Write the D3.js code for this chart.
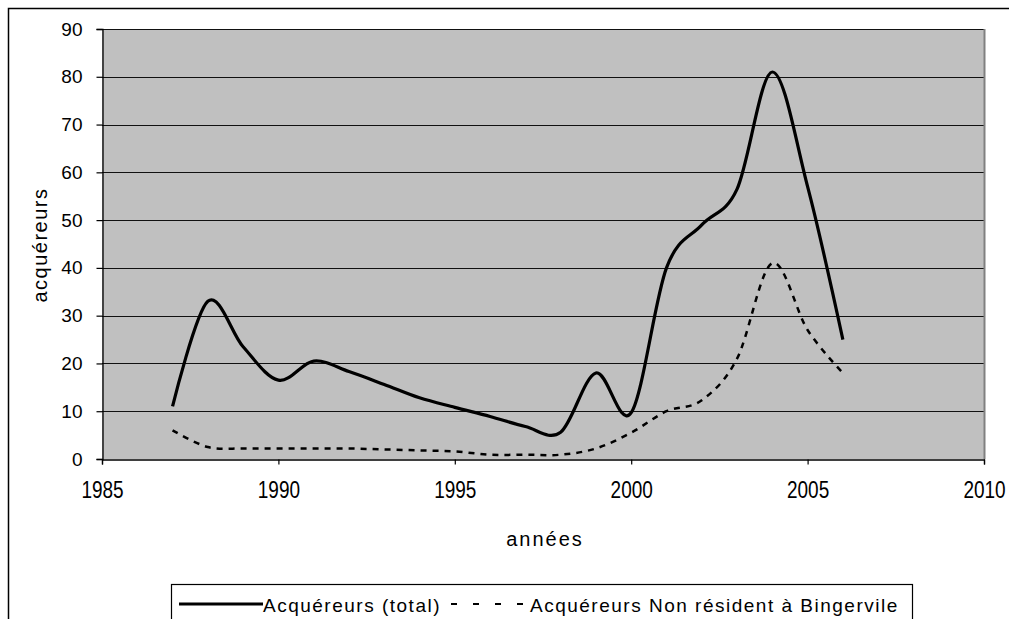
<!DOCTYPE html>
<html>
<head>
<meta charset="utf-8">
<script src="https://cdn.jsdelivr.net/npm/d3@7"></script>
<style>
  html, body { margin: 0; padding: 0; background: #fff; }
  svg { display: block; }
  text { font-family: "Liberation Sans", Arial, sans-serif; fill: #000; }
</style>
</head>
<body>
<svg id="chart" width="1009" height="619"></svg>
<script>
// ---- data ----
const years = [1987, 1988, 1989, 1990, 1991, 1992, 1993, 1994, 1995, 1996,
               1997, 1998, 1999, 2000, 2001, 2002, 2003, 2004, 2005, 2006];
const totalBuyers = [11, 33, 23.5, 16.5, 20.5, 18.3, 15.6, 12.8, 10.8, 8.9,
                     6.8, 5.6, 18, 9.7, 40, 49, 56.5, 81, 57, 25];
const nonResidentBuyers = [6, 2.5, 2.2, 2.2, 2.2, 2.2, 2.0, 1.8, 1.6, 0.9,
                           0.9, 0.9, 2.2, 5.5, 10, 12.3, 21, 41, 27, 18];
const xTicks = [1985, 1990, 1995, 2000, 2005, 2010];
const yTicks = [0, 10, 20, 30, 40, 50, 60, 70, 80, 90];
const seriesNames = ["Acquéreurs (total)", "Acquéreurs Non résident à Bingervile"];
const xTitle = "années";
const yTitle = "acquéreurs";

// ---- layout ----
const svg = d3.select("#chart");
const plot = { left: 102, right: 984, top: 29, bottom: 459 };

const x = d3.scaleLinear().domain([1985, 2010]).range([plot.left, plot.right]);
const y = d3.scaleLinear().domain([0, 90]).range([plot.bottom, plot.top]);

// outer chart border (cropped by the window on right/bottom)
svg.append("rect")
  .attr("x", 8.5).attr("y", 8.5)
  .attr("width", 1100).attr("height", 700)
  .attr("fill", "#fff").attr("stroke", "#000").attr("stroke-width", 1.5);

// plot background
svg.append("rect")
  .attr("x", plot.left).attr("y", plot.top)
  .attr("width", plot.right - plot.left).attr("height", plot.bottom - plot.top)
  .attr("fill", "#c0c0c0");

// gridlines
svg.append("g").selectAll("line")
  .data(yTicks.filter(d => d > 0))
  .join("line")
  .attr("x1", plot.left).attr("x2", plot.right)
  .attr("y1", d => Math.round(y(d)) + 0.5).attr("y2", d => Math.round(y(d)) + 0.5)
  .attr("stroke", "#111").attr("stroke-width", 1.2);

// right border shadow
svg.append("line")
  .attr("x1", plot.right + 0.5).attr("x2", plot.right + 0.5)
  .attr("y1", plot.top).attr("y2", plot.bottom)
  .attr("stroke", "#808080").attr("stroke-width", 2);

// y axis
const yAxis = d3.axisLeft(y).tickValues(yTicks).tickSize(6).tickPadding(14).tickFormat(d3.format("d"));
const gy = svg.append("g").attr("transform", `translate(${plot.left + 0.5},0)`).call(yAxis);
gy.select(".domain").attr("stroke", "#000").attr("stroke-width", 1.3);
gy.selectAll(".tick line").attr("stroke", "#000").attr("stroke-width", 1.2);
gy.selectAll(".tick text").attr("font-size", 19).attr("font-family", "Liberation Sans, Arial, sans-serif").attr("fill", "#000");

// x axis
const xAxis = d3.axisBottom(x).tickValues(xTicks).tickSize(5).tickPadding(6).tickFormat(d3.format("d"));
const gx = svg.append("g").attr("transform", `translate(0,${plot.bottom + 0.5})`).call(xAxis);
gx.select(".domain").attr("stroke", "#000").attr("stroke-width", 1.3);
gx.selectAll(".tick line").attr("stroke", "#000").attr("stroke-width", 1.2);
gx.selectAll(".tick text")
  .attr("font-size", 19).attr("font-family", "Liberation Sans, Arial, sans-serif").attr("fill", "#000")
  .attr("dy", null).attr("y", 0)
  .attr("transform", "translate(0,38) scale(1,1.3)");

// lines
const pts = (vals) => years.map((yr, i) => [yr, vals[i]]);
const line = d3.line()
  .x(d => x(d[0])).y(d => y(d[1]))
  .curve(d3.curveCardinal.tension(0));

svg.append("path")
  .attr("d", line(pts(nonResidentBuyers)))
  .attr("fill", "none").attr("stroke", "#000").attr("stroke-width", 2.5)
  .attr("stroke-dasharray", "6,6");

svg.append("path")
  .attr("d", line(pts(totalBuyers)))
  .attr("fill", "none").attr("stroke", "#000").attr("stroke-width", 3.2)
  .attr("stroke-linejoin", "round");

// axis titles
svg.append("text")
  .attr("x", (plot.left + plot.right) / 2 + 2).attr("y", 546)
  .attr("text-anchor", "middle").attr("font-size", 20).attr("letter-spacing", 2)
  .text(xTitle);

svg.append("text")
  .attr("transform", "translate(47,245) rotate(-90)")
  .attr("text-anchor", "middle").attr("font-size", 20).attr("letter-spacing", 1.5)
  .text(yTitle);

// legend
const lg = svg.append("g");
lg.append("rect")
  .attr("x", 171.5).attr("y", 584.5).attr("width", 741).attr("height", 60)
  .attr("fill", "#fff").attr("stroke", "#000").attr("stroke-width", 1.2);
lg.append("line")
  .attr("x1", 179).attr("x2", 263).attr("y1", 604).attr("y2", 604)
  .attr("stroke", "#000").attr("stroke-width", 3);
lg.append("text").attr("x", 263).attr("y", 612).attr("font-size", 19)
  .attr("letter-spacing", 1.5).text(seriesNames[0]);
lg.append("line")
  .attr("x1", 451).attr("x2", 524).attr("y1", 604).attr("y2", 604)
  .attr("stroke", "#000").attr("stroke-width", 2)
  .attr("stroke-dasharray", "6,16");
lg.append("text").attr("x", 530).attr("y", 612).attr("font-size", 19)
  .attr("letter-spacing", 1.5).text(seriesNames[1]);
</script>
</body>
</html>
